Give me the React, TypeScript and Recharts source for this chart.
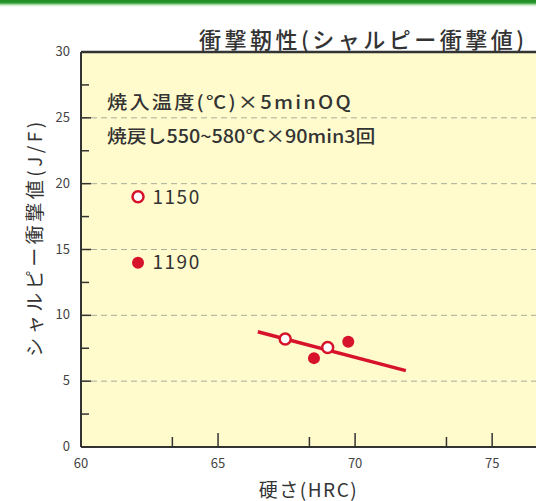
import { ScatterChart, Scatter, XAxis, YAxis, ReferenceLine, ReferenceArea, LabelList, Label } from 'recharts';

// hardness ticks (minor every 5/3, labels every 5)
const xTicks = [60, 61.667, 63.333, 65, 66.667, 68.333, 70, 71.667, 73.333, 75];
const yTicks = [0, 2.5, 5, 7.5, 10, 12.5, 15, 17.5, 20, 22.5, 25, 27.5, 30];
const gridValues = [5, 10, 15, 20, 25];

// quench 1150 (open) / 1190 (filled)
const points1150 = [
  { hrc: 67.45, value: 8.2 },
  { hrc: 69.0, value: 7.55 },
];
const points1190 = [
  { hrc: 68.5, value: 6.75 },
  { hrc: 69.75, value: 8.0 },
];
const trendLine = [
  { hrc: 66.45, value: 8.75 },
  { hrc: 71.85, value: 5.8 },
];
const keyOpen = [{ hrc: 62.08, value: 19.0, name: '1150' }];
const keyFilled = [{ hrc: 62.08, value: 14.0, name: '1190' }];

const RED = '#d7132b';
const FONT = '"Noto Sans CJK JP", "Noto Sans", sans-serif';

const isMajor = (v: number) => Math.abs(v / 5 - Math.round(v / 5)) < 0.01;

const XTick = (props: any) => {
  const { x, y, payload } = props;
  const v = payload.value;
  const major = isMajor(v);
  return (
    <g>
      <line x1={x} y1={y} x2={x} y2={y - (major ? 14 : 10)} stroke="#333" strokeWidth={1.5} />
      {major && (
        <text x={x} y={y + 21} textAnchor="middle" fontSize={13} fill="#444" fontFamily={FONT}>
          {Math.round(v)}
        </text>
      )}
    </g>
  );
};

const YTick = (props: any) => {
  const { x, y, payload } = props;
  const v = payload.value;
  const major = isMajor(v);
  return (
    <g>
      <line x1={x} y1={y} x2={x + (major ? 10 : 8)} y2={y} stroke="#333" strokeWidth={1.5} />
      {major && (
        <text x={x - 11} y={y + 4} textAnchor="end" fontSize={13} fill="#444" fontFamily={FONT}>
          {v}
        </text>
      )}
    </g>
  );
};

const OpenDot = (props: any) => (
  <circle cx={props.cx} cy={props.cy} r={5.5} fill="#fff" stroke={RED} strokeWidth={2.5} />
);
const FilledDot = (props: any) => <circle cx={props.cx} cy={props.cy} r={6} fill={RED} />;
const NoDot = () => null;

const noteStyle: React.CSSProperties = {
  position: 'absolute',
  left: 107,
  fontSize: 18,
  fontWeight: 500,
  color: '#333',
  whiteSpace: 'nowrap',
  lineHeight: '24px',
  transformOrigin: 'left center',
  zIndex: 2,
};

export default function App() {
  return (
    <div style={{ position: 'absolute', left: 0, top: 0, width: 536, height: 501, background: '#fff', fontFamily: FONT, overflow: 'hidden' }}>
      <div style={{ position: 'absolute', left: 0, top: 0, width: 536, height: 7, zIndex: 3, background: 'linear-gradient(to bottom, #1f8a24, #2e9a30 40%, #cfeecb 75%, #ffffff)' }} />
      <ScatterChart width={536} height={501} margin={{ top: 52, right: 0, bottom: 0, left: 0 }}>
        <ReferenceArea x1={60} x2={76.6} y1={0} y2={30} fill="#fffbcc" fillOpacity={1} stroke="none" />
        {gridValues.map((g) => (
          <ReferenceLine key={g} y={g} stroke="#a9ae98" strokeDasharray="6 4" strokeWidth={1} />
        ))}
        <ReferenceLine y={30} stroke="#333" strokeWidth={2.5} />
        <XAxis
          type="number"
          dataKey="hrc"
          domain={[60, 76.6]}
          ticks={xTicks}
          tick={<XTick />}
          tickLine={false}
          tickSize={0}
          tickMargin={0}
          height={54}
          stroke="#333"
          strokeWidth={2}
          allowDataOverflow
        >
          <Label value="硬さ(HRC)" position="insideBottom" offset={4} fontSize={19} letterSpacing={1.5} fill="#333" fontFamily={FONT} />
        </XAxis>
        <YAxis
          type="number"
          dataKey="value"
          domain={[0, 30]}
          ticks={yTicks}
          tick={<YTick />}
          tickLine={false}
          tickSize={0}
          tickMargin={0}
          width={81}
          stroke="#333"
          strokeWidth={2}
        >
          <Label value="シャルピー衝撃値(J/F)" angle={-90} position="insideLeft" dx={30} dy={-12} fontSize={19} letterSpacing={3.5} fill="#333" fontFamily={FONT} style={{ textAnchor: 'middle' }} />
        </YAxis>
        <Scatter data={trendLine} line={{ stroke: RED, strokeWidth: 3.5 }} shape={<NoDot />} isAnimationActive={false} />
        <Scatter data={points1190} shape={<FilledDot />} isAnimationActive={false} />
        <Scatter data={points1150} shape={<OpenDot />} isAnimationActive={false} />
        <Scatter data={keyOpen} shape={<OpenDot />} isAnimationActive={false}>
          <LabelList dataKey="name" position="right" offset={10} fontSize={19} letterSpacing={1.5} fill="#333" fontFamily={FONT} />
        </Scatter>
        <Scatter data={keyFilled} shape={<FilledDot />} isAnimationActive={false}>
          <LabelList dataKey="name" position="right" offset={10} fontSize={19} letterSpacing={1.5} fill="#333" fontFamily={FONT} />
        </Scatter>
      </ScatterChart>
      <div style={{ position: 'absolute', left: 199, top: 22, fontSize: 22, fontWeight: 500, color: '#333', whiteSpace: 'nowrap', letterSpacing: 3.5, zIndex: 2 }}>
        衝撃靭性(シャルピー衝撃値)
      </div>
      <div style={{ ...noteStyle, top: 89, transform: 'scaleX(1.12)', letterSpacing: 2 }}>
        焼入温度(℃)×5minOQ
      </div>
      <div style={{ ...noteStyle, top: 123, transform: 'scaleX(1.1)' }}>
        焼戻し550~580℃×90min3回
      </div>
    </div>
  );
}
